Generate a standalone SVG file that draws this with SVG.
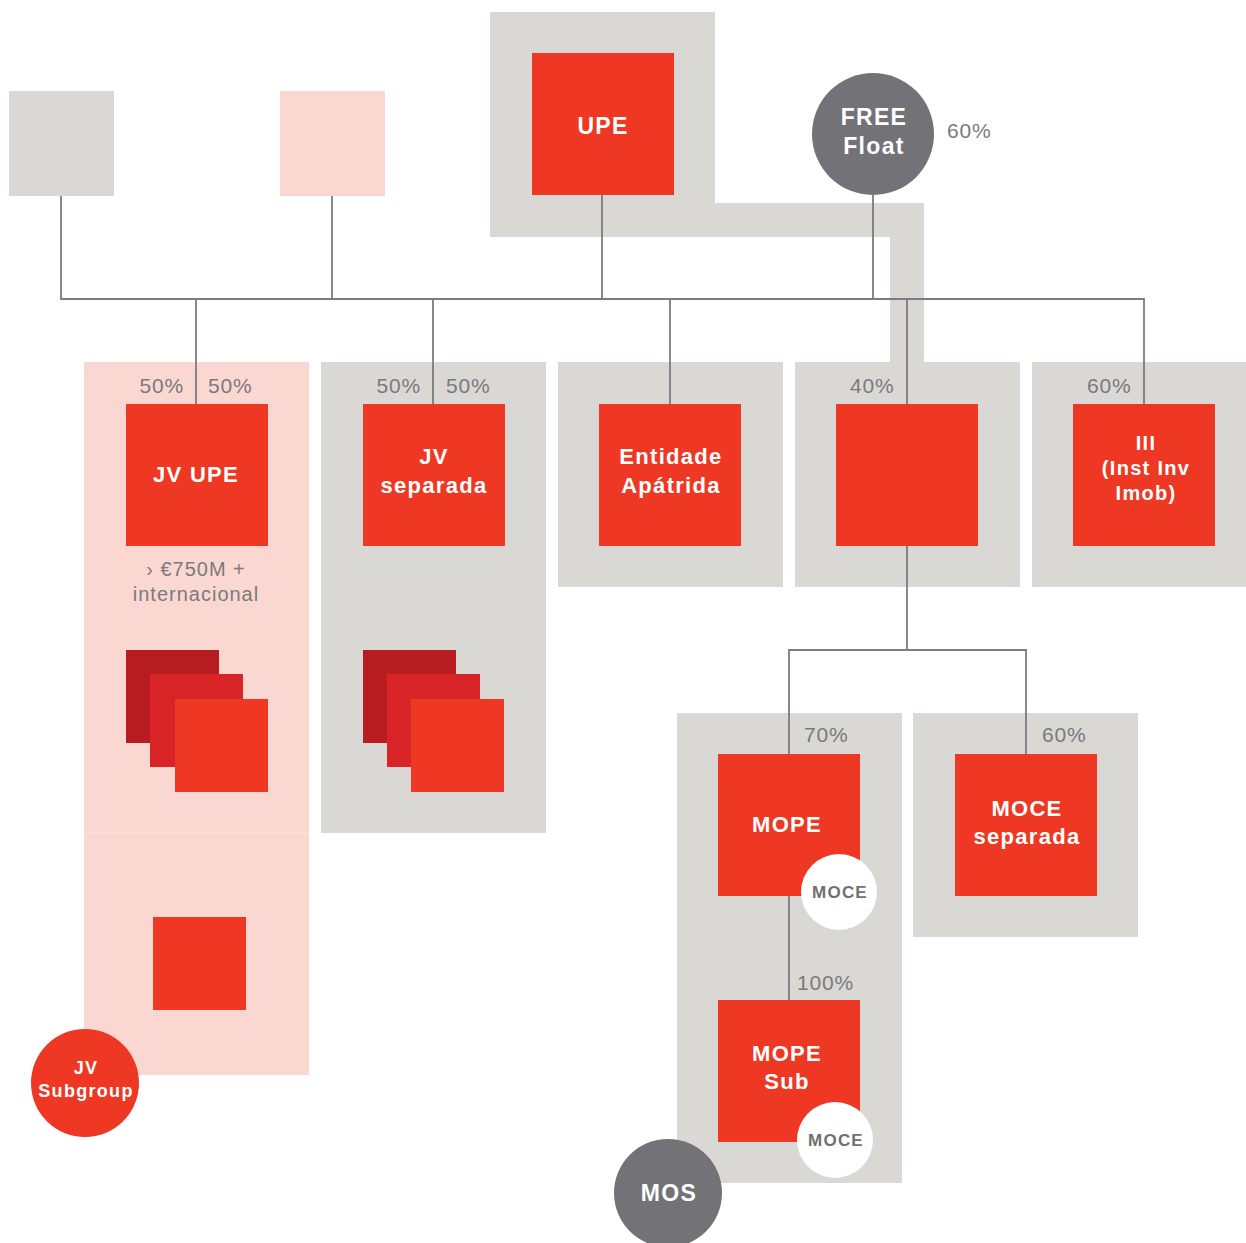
<svg xmlns="http://www.w3.org/2000/svg" width="1246" height="1243" viewBox="0 0 1246 1243">
  <style>
    .frame { fill: #d9d8d4; }
    .pink { fill: #fbd7d1; }
    .seam { fill: #fde4df; }
    .red { fill: #ee3823; }
    .mid { fill: #d92427; }
    .dark { fill: #b71c20; }
    .disc { fill: #727277; }
    .badge { fill: #ffffff; }
    .wire { fill: none; stroke: #7b7b80; stroke-width: 1.8; }
    .lbl { font-family: "Liberation Sans", Arial, sans-serif; font-weight: bold; fill: #ffffff; text-anchor: middle; letter-spacing: 1.3px; }
    .pct { font-family: "Liberation Sans", Arial, sans-serif; font-size: 21px; fill: #7a7a7e; letter-spacing: 0.8px; }
    .note { font-family: "Liberation Sans", Arial, sans-serif; font-size: 20px; fill: #7a7a7e; text-anchor: middle; letter-spacing: 1px; }
    .moce { font-family: "Liberation Sans", Arial, sans-serif; font-weight: bold; font-size: 17px; fill: #6f6f74; text-anchor: middle; letter-spacing: 1.2px; }
  </style>

  <!-- background frames -->
  <g id="frames">
    <path class="frame" d="M490 12H715V203H924V362H890V237H490Z"/>
    <rect class="pink" x="84" y="362" width="225" height="713"/>
    <rect class="seam" x="84" y="832.5" width="225" height="1"/>
    <rect class="frame" x="321" y="362" width="225" height="471"/>
    <rect class="frame" x="558" y="362" width="225" height="225"/>
    <rect class="frame" x="795" y="362" width="225" height="225"/>
    <rect class="frame" x="1032" y="362" width="214" height="225"/>
    <rect class="frame" x="677" y="713" width="225" height="470"/>
    <rect class="frame" x="913" y="713" width="225" height="224"/>
  </g>

  <!-- ownership lines -->
  <g id="connectors">
    <path class="wire" d="M61 196V299H1144V404"/>
    <path class="wire" d="M332 196V299"/>
    <path class="wire" d="M602 195V299"/>
    <path class="wire" d="M873 195V299"/>
    <path class="wire" d="M196 299V404"/>
    <path class="wire" d="M433 299V404"/>
    <path class="wire" d="M670 299V404"/>
    <path class="wire" d="M907 299V404"/>
    <path class="wire" d="M907 546V650H789V754"/>
    <path class="wire" d="M907 650H1026V754"/>
    <path class="wire" d="M789 896V1000"/>
  </g>

  <g id="shareholder-grey">
    <rect class="frame" x="9" y="91" width="105" height="105"/>
  </g>
  <g id="shareholder-pink">
    <rect class="pink" x="280" y="91" width="105" height="105"/>
  </g>

  <g id="upe">
    <rect class="red" x="532" y="53" width="142" height="142"/>
    <text class="lbl" x="603" y="134" font-size="23">UPE</text>
  </g>

  <g id="free-float">
    <circle class="disc" cx="873" cy="134" r="61"/>
    <text class="lbl" x="874" y="125" font-size="23">FREE</text>
    <text class="lbl" x="874" y="154" font-size="23">Float</text>
    <text class="pct" x="947" y="138">60%</text>
  </g>

  <g id="jv-upe">
    <text class="pct" x="184" y="393" text-anchor="end">50%</text>
    <text class="pct" x="208" y="393">50%</text>
    <rect class="red" x="126" y="404" width="142" height="142"/>
    <text class="lbl" x="196" y="482" font-size="22">JV UPE</text>
    <text class="note" x="196" y="576">› €750M +</text>
    <text class="note" x="196" y="601">internacional</text>
    <rect class="dark" x="126" y="650" width="93" height="93"/>
    <rect class="mid" x="150" y="674" width="93" height="93"/>
    <rect class="red" x="175" y="699" width="93" height="93"/>
  </g>

  <g id="jv-subgroup">
    <rect class="red" x="153" y="917" width="93" height="93"/>
    <circle class="red" cx="85" cy="1083" r="54"/>
    <text class="lbl" x="86" y="1074" font-size="18" letter-spacing="0.5">JV</text>
    <text class="lbl" x="86" y="1097" font-size="18" letter-spacing="0.5">Subgroup</text>
  </g>

  <g id="jv-separada">
    <text class="pct" x="421" y="393" text-anchor="end">50%</text>
    <text class="pct" x="446" y="393">50%</text>
    <rect class="red" x="363" y="404" width="142" height="142"/>
    <text class="lbl" x="434" y="464" font-size="22">JV</text>
    <text class="lbl" x="434" y="493" font-size="22">separada</text>
    <rect class="dark" x="363" y="650" width="93" height="93"/>
    <rect class="mid" x="387" y="674" width="93" height="93"/>
    <rect class="red" x="411" y="699" width="93" height="93"/>
  </g>

  <g id="entidade-apatrida">
    <rect class="red" x="599" y="404" width="142" height="142"/>
    <text class="lbl" x="671" y="464" font-size="22">Entidade</text>
    <text class="lbl" x="671" y="493" font-size="22">Apátrida</text>
  </g>

  <g id="holding-40">
    <text class="pct" x="850" y="393">40%</text>
    <rect class="red" x="836" y="404" width="142" height="142"/>
  </g>

  <g id="iii">
    <text class="pct" x="1087" y="393">60%</text>
    <rect class="red" x="1073" y="404" width="142" height="142"/>
    <text class="lbl" x="1146" y="450" font-size="20">III</text>
    <text class="lbl" x="1146" y="475" font-size="20">(Inst Inv</text>
    <text class="lbl" x="1146" y="500" font-size="20">Imob)</text>
  </g>

  <g id="mope">
    <text class="pct" x="804" y="742">70%</text>
    <rect class="red" x="718" y="754" width="142" height="142"/>
    <text class="lbl" x="787" y="832" font-size="22">MOPE</text>
    <circle class="badge" cx="839" cy="892" r="38"/>
    <text class="moce" x="840" y="898">MOCE</text>
  </g>

  <g id="moce-separada">
    <text class="pct" x="1042" y="742">60%</text>
    <rect class="red" x="955" y="754" width="142" height="142"/>
    <text class="lbl" x="1027" y="816" font-size="22">MOCE</text>
    <text class="lbl" x="1027" y="844" font-size="22">separada</text>
  </g>

  <g id="mope-sub">
    <text class="pct" x="797" y="990">100%</text>
    <rect class="red" x="718" y="1000" width="142" height="142"/>
    <text class="lbl" x="787" y="1061" font-size="22">MOPE</text>
    <text class="lbl" x="787" y="1089" font-size="22">Sub</text>
    <circle class="badge" cx="835" cy="1140" r="38"/>
    <text class="moce" x="836" y="1146">MOCE</text>
  </g>

  <g id="mos">
    <circle class="disc" cx="668" cy="1193" r="54"/>
    <text class="lbl" x="669" y="1201" font-size="23">MOS</text>
  </g>
</svg>
